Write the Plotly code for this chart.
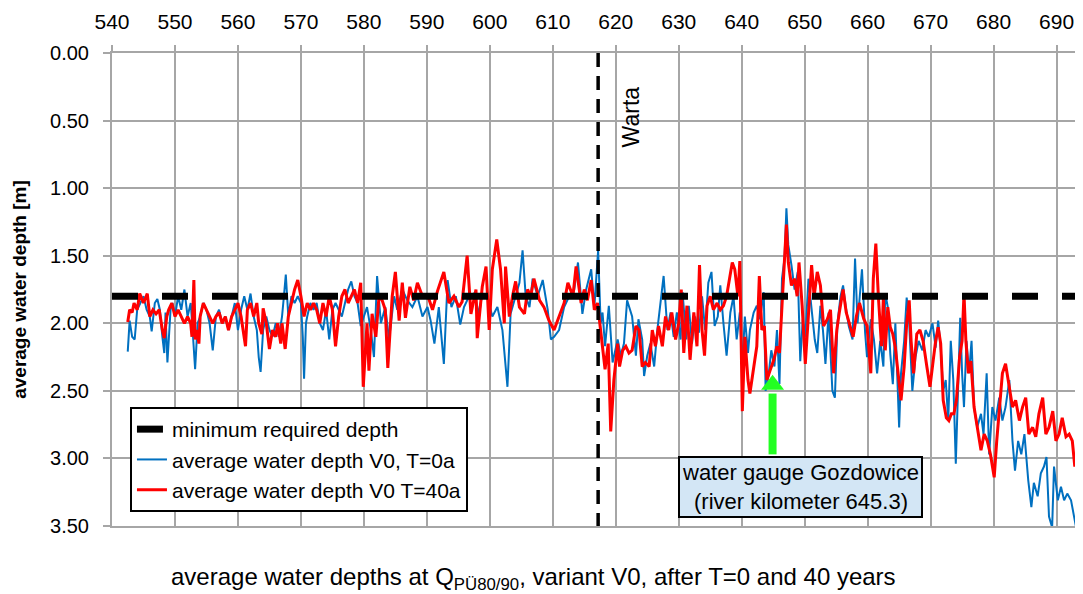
import plotly.graph_objects as go

# ---------------- data ----------------
blue_km = [542.5, 542.8, 543.2, 543.6, 544.0, 544.5, 545.0, 545.5, 546.0, 546.3, 546.8, 547.2, 547.6, 548.0, 548.3, 548.5, 548.8, 549.3, 549.6, 550.0,
           550.5, 551.0, 551.5, 552.0, 552.5, 552.8, 553.0, 553.2, 553.6, 554.0, 554.5, 555.0, 555.5, 556.0, 556.5, 557.0, 557.5, 558.0, 558.5, 559.0,
           559.5, 560.0, 560.5, 561.0, 561.5, 562.0, 562.5, 563.0, 563.3, 563.6, 564.0, 564.5, 565.0, 565.5, 566.0, 566.5, 567.0, 567.3, 567.6, 568.0,
           568.5, 569.0, 569.5, 570.0, 570.3, 570.5, 570.8, 571.0, 571.5, 572.0, 572.5, 573.0, 573.5, 574.0, 574.5, 575.0, 575.5, 576.0, 576.5, 577.0,
           577.5, 578.0, 578.5, 579.0, 579.5, 580.0, 580.5, 581.1, 581.6, 582.1, 582.7, 583.4, 584.0, 584.8, 585.3, 586.1, 586.9, 587.7, 588.5, 589.3,
           590.1, 590.6, 591.2, 591.9, 592.7, 593.3, 593.9, 594.6, 595.3, 595.9, 596.7, 597.5, 598.3, 598.8, 599.6, 600.4, 601.2, 602.0, 602.8, 603.3,
           604.1, 604.7, 605.2, 605.7, 606.3, 606.8, 607.6, 608.4, 609.2, 609.7, 610.2, 611.0, 611.8, 612.6, 613.4, 614.0, 614.7, 615.3, 616.1, 616.6,
           617.2, 617.6, 617.9, 618.3, 618.9, 619.5, 620.3, 620.8, 621.3, 621.8, 622.6, 623.2, 623.6, 624.2, 624.5, 625.0, 625.5, 626.1, 626.6, 627.1,
           627.6, 628.2, 628.7, 629.2, 629.7, 630.3, 630.6, 631.2, 631.6, 632.1, 632.6, 633.2, 633.7, 634.2, 634.7, 635.2, 635.7, 636.2, 636.6, 637.1,
           637.6, 638.2, 638.7, 639.2, 639.7, 640.1, 640.5, 641.0, 641.3, 641.9, 642.4, 642.9, 643.5, 643.8, 644.3, 644.7, 645.2, 645.6, 646.0, 646.4,
           646.8, 647.1, 647.4, 647.9, 648.4, 648.9, 649.3, 649.7, 650.1, 650.6, 651.2, 651.6, 652.0, 652.5, 652.9, 653.3, 653.8, 654.4, 654.8, 655.2,
           655.7, 656.1, 656.5, 657.0, 657.6, 658.0, 658.4, 658.7, 659.1, 659.6, 659.9, 660.5, 661.0, 661.5, 662.0, 662.5, 662.8, 663.2, 663.6, 664.0,
           664.4, 665.0, 665.3, 665.8, 666.2, 666.6, 667.1, 667.6, 668.1, 668.7, 669.2, 669.7, 670.3, 670.8, 671.2, 671.6, 672.0, 672.4, 672.8, 673.2,
           673.6, 674.0, 674.3, 674.7, 675.0, 675.3, 675.7, 676.1, 676.5, 676.9, 677.4, 678.0, 678.4, 678.9, 679.3, 679.8, 680.3, 680.9, 681.4, 681.9,
           682.5, 683.0, 683.4, 683.9, 684.4, 684.9, 685.5, 686.0, 686.4, 687.0, 687.5, 688.0, 688.4, 688.8, 689.3, 689.6, 690.2, 690.7, 691.2, 691.7,
           692.3, 692.8, 693.1]
blue_depth = [2.21, 1.98, 2.10, 2.12, 1.90, 1.85, 1.80, 1.90, 1.95, 2.06, 1.85, 1.82, 1.90, 2.10, 2.22, 1.92, 2.29, 1.90, 1.85, 1.95,
              1.80, 1.90, 1.75, 1.95, 1.85, 2.05, 2.20, 2.34, 2.00, 1.95, 1.85, 1.90, 2.00, 2.20, 1.95, 1.90, 2.00, 1.95, 2.05, 1.95,
              1.85, 2.05, 1.90, 1.80, 1.90, 1.78, 1.95, 2.05, 2.25, 2.36, 2.05, 1.95, 2.05, 2.10, 2.00, 2.10, 1.95, 1.80, 1.64, 1.95,
              1.80, 1.85, 1.80, 1.85, 2.10, 2.41, 2.00, 1.95, 1.85, 1.90, 1.85, 2.00, 2.05, 1.90, 2.12, 1.90, 1.85, 1.90, 1.95, 1.85,
              1.75, 1.69, 1.80, 1.85, 2.02, 1.95, 1.88, 2.05, 2.25, 1.65, 2.00, 1.88, 2.12, 1.80, 1.90, 1.75, 1.83, 1.88, 1.80, 1.95,
              1.88, 1.98, 2.15, 1.88, 2.30, 1.68, 1.88, 1.80, 2.01, 1.88, 1.80, 1.78, 1.93, 1.78, 1.80, 1.95, 1.88, 2.05, 2.47, 1.93,
              1.80, 1.70, 1.46, 1.80, 1.88, 1.67, 1.80, 1.68, 1.90, 2.12, 2.10, 2.05, 1.88, 1.80, 1.75, 1.55, 1.93, 1.75, 1.60, 1.88,
              1.46, 2.00, 1.92, 2.17, 1.87, 2.29, 2.12, 2.24, 2.15, 1.83, 1.95, 2.24, 1.97, 2.12, 2.39, 2.24, 2.15, 2.32, 2.05, 1.87,
              1.65, 2.05, 1.92, 2.10, 1.92, 2.12, 1.77, 2.12, 1.87, 2.15, 1.95, 2.07, 1.80, 2.05, 1.70, 1.62, 2.02, 1.95, 1.72, 2.00,
              2.24, 1.92, 1.80, 2.12, 1.92, 2.32, 1.95, 2.22, 2.05, 1.92, 1.87, 1.97, 1.77, 2.50, 2.37, 2.20, 2.32, 2.05, 2.45, 1.67,
              1.52, 1.15, 1.42, 1.57, 1.75, 1.62, 2.28, 1.97, 2.10, 1.67, 1.92, 2.12, 2.22, 1.87, 2.05, 2.30, 1.92, 2.50, 2.55, 2.00,
              1.80, 1.72, 1.87, 2.02, 2.12, 1.52, 2.00, 1.80, 1.60, 2.07, 2.25, 1.97, 2.12, 2.37, 2.13, 2.32, 1.78, 1.88, 2.23, 2.45,
              2.00, 2.77, 2.37, 2.13, 1.81, 2.00, 2.50, 2.25, 2.13, 2.20, 2.05, 2.10, 2.00, 2.18, 1.98, 2.18, 2.50, 2.42, 2.72, 2.13,
              2.42, 3.04, 2.62, 1.96, 2.37, 2.62, 2.13, 2.37, 2.13, 2.62, 2.77, 2.67, 2.82, 2.37, 2.97, 2.62, 2.72, 2.55, 2.72, 2.62,
              2.42, 2.87, 3.09, 2.87, 2.97, 2.82, 3.16, 3.36, 3.18, 3.28, 3.11, 3.06, 2.99, 3.43, 3.51, 3.06, 3.31, 3.21, 3.31, 3.26,
              3.31, 3.43, 3.51]

red_km = [542.5, 542.8, 543.2, 543.5, 544.0, 544.4, 545.0, 545.6, 546.0, 546.5, 547.0, 547.5, 548.0, 548.3, 548.7, 549.0, 549.5, 550.0, 550.5, 551.0,
          551.5, 552.0, 552.5, 552.7, 553.0, 553.2, 553.5, 553.8, 554.0, 554.5, 555.0, 555.5, 556.0, 556.5, 557.0, 557.5, 558.0, 558.5, 559.0, 559.5,
          560.0, 560.5, 561.2, 561.5, 562.0, 562.5, 563.0, 563.3, 563.8, 564.0, 564.5, 565.0, 565.5, 566.0, 566.3, 566.8, 567.0, 567.5, 568.0, 568.5,
          569.0, 569.5, 570.0, 570.5, 571.0, 571.5, 572.0, 572.5, 573.0, 573.5, 574.0, 574.5, 575.0, 575.5, 576.0, 576.5, 577.0, 577.5, 578.0, 578.5,
          579.0, 579.5, 579.9, 580.5, 580.8, 581.3, 581.9, 582.4, 582.9, 583.4, 583.8, 584.5, 585.0, 585.6, 586.1, 586.6, 587.3, 587.9, 588.5, 589.3,
          590.1, 590.9, 591.7, 592.7, 593.5, 594.3, 595.1, 595.6, 596.4, 597.0, 597.8, 598.0, 598.8, 599.4, 599.9, 600.4, 601.1, 601.7, 602.3, 602.5,
          603.1, 603.6, 604.1, 604.7, 605.5, 606.0, 606.5, 607.0, 607.9, 608.6, 609.4, 610.2, 611.0, 611.8, 612.4, 613.2, 613.7, 614.5, 615.0, 615.5,
          616.1, 616.6, 617.1, 617.6, 617.9, 618.3, 618.8, 619.2, 619.7, 620.3, 620.6, 621.1, 621.6, 622.1, 622.6, 623.2, 623.7, 624.2, 624.7, 625.3,
          625.8, 626.3, 626.8, 627.4, 627.9, 628.4, 628.9, 629.5, 630.0, 630.4, 630.8, 631.3, 631.8, 632.4, 632.9, 633.3, 633.7, 634.1, 634.5, 635.0,
          635.5, 636.1, 636.6, 637.1, 637.6, 638.2, 638.5, 638.9, 639.4, 639.7, 640.1, 640.5, 641.0, 641.3, 641.9, 642.4, 642.8, 643.2, 643.6, 644.0,
          644.5, 645.1, 645.6, 646.0, 646.4, 646.8, 647.1, 647.4, 647.9, 648.4, 648.8, 649.1, 649.6, 650.1, 650.5, 651.1, 651.5, 652.0, 652.5, 653.0,
          653.6, 654.1, 654.6, 655.1, 655.5, 656.1, 656.6, 657.1, 657.7, 658.2, 658.7, 659.4, 659.9, 660.5, 660.9, 661.3, 661.7, 662.2, 662.5, 662.8,
          663.2, 663.6, 664.0, 664.4, 665.0, 665.3, 665.8, 666.2, 666.6, 666.9, 667.3, 667.8, 668.3, 668.8, 669.4, 669.9, 670.4, 670.8, 671.2, 671.6,
          672.0, 672.5, 672.9, 673.3, 673.7, 674.1, 674.6, 675.0, 675.3, 675.6, 676.0, 676.4, 676.9, 677.4, 678.0, 678.5, 679.0, 679.5, 680.1, 680.5,
          680.9, 681.4, 681.9, 682.5, 683.0, 683.5, 684.1, 684.6, 685.1, 685.6, 686.2, 686.7, 687.2, 687.8, 688.3, 688.8, 689.4, 689.9, 690.4, 690.9,
          691.5, 692.0, 692.5, 692.9, 693.3, 693.8]
red_depth = [1.99, 1.90, 1.92, 1.85, 1.90, 1.78, 1.85, 1.78, 1.95, 1.90, 1.93, 1.90, 2.05, 2.11, 1.95, 1.90, 1.85, 1.95, 1.90, 1.95,
             2.00, 1.95, 2.00, 2.10, 1.68, 2.12, 2.05, 2.15, 1.95, 1.85, 1.90, 1.95, 2.00, 1.95, 1.92, 2.00, 1.95, 2.05, 1.95, 1.90,
             1.85, 1.95, 2.17, 1.90, 1.85, 1.95, 1.85, 2.00, 2.08, 1.89, 2.00, 2.19, 2.05, 2.10, 2.00, 2.15, 2.00, 2.19, 1.95, 1.85,
             1.75, 1.68, 1.80, 1.95, 1.85, 1.90, 1.85, 1.90, 2.00, 1.85, 1.95, 1.80, 1.90, 2.17, 1.95, 1.80, 1.75, 1.85, 1.80, 1.75,
             1.85, 1.70, 2.47, 2.00, 2.35, 1.93, 2.10, 1.80, 1.83, 1.90, 2.33, 1.80, 1.62, 1.98, 1.70, 1.96, 1.73, 1.83, 1.70, 1.80,
             1.79, 1.90, 1.76, 1.62, 1.85, 1.80, 1.88, 1.84, 1.50, 1.93, 1.75, 2.11, 1.73, 1.58, 2.05, 1.60, 1.38, 1.60, 2.00, 1.58,
             1.95, 1.80, 1.69, 1.88, 1.93, 1.75, 1.80, 1.67, 1.83, 1.88, 1.98, 2.05, 1.95, 1.85, 1.70, 1.80, 1.58, 1.85, 1.75, 1.83,
             1.68, 1.90, 1.85, 2.05, 2.15, 2.34, 2.15, 2.80, 2.42, 2.15, 2.32, 2.20, 2.17, 2.22, 2.20, 2.02, 2.05, 2.32, 2.29, 2.32,
             2.05, 2.17, 2.02, 2.17, 1.95, 2.05, 1.92, 2.12, 2.00, 1.75, 2.22, 1.87, 2.27, 1.92, 2.17, 1.57, 2.05, 2.24, 1.87, 1.80,
             1.90, 1.85, 1.90, 1.87, 1.80, 1.65, 1.55, 1.60, 1.80, 1.54, 2.65, 2.10, 2.42, 2.52, 2.32, 2.17, 1.65, 2.05, 2.02, 2.42,
             2.35, 2.27, 2.17, 2.22, 1.87, 1.55, 1.27, 1.55, 1.72, 1.67, 1.80, 1.55, 1.87, 2.30, 1.97, 1.57, 1.80, 1.62, 1.72, 2.02,
             1.97, 1.90, 2.37, 2.05, 1.92, 1.75, 1.92, 2.00, 2.10, 1.95, 1.85, 1.97, 2.02, 2.37, 1.67, 1.41, 1.80, 2.17, 1.81, 2.20,
             1.88, 2.03, 2.08, 2.18, 2.42, 2.57, 2.32, 2.00, 1.83, 2.13, 2.37, 2.08, 2.05, 2.13, 2.32, 2.47, 2.28, 2.13, 2.03, 2.15,
             2.57, 2.70, 2.72, 2.67, 2.67, 2.57, 2.25, 2.13, 1.78, 2.13, 2.37, 2.28, 2.62, 2.77, 2.94, 2.82, 2.87, 2.97, 3.14, 2.87,
             2.62, 2.37, 2.30, 2.47, 2.62, 2.57, 2.72, 2.62, 2.55, 2.82, 2.77, 2.84, 2.67, 2.55, 2.82, 2.77, 2.65, 2.87, 2.82, 2.70,
             2.84, 2.82, 2.87, 3.06, 2.99, 3.04]

min_depth_km = [540.0, 694.2]
min_depth_value = [1.80, 1.80]
warta_km = [617.2, 617.2]
warta_depth = [0.0, 3.5]
gauge_km = [644.9, 644.9]
gauge_shaft_depth = [2.97, 2.52]
gauge_head_depth = [2.455]
x_ticks = [540, 550, 560, 570, 580, 590, 600, 610, 620, 630, 640, 650, 660, 670, 680, 690]
y_ticks = [0.0, 0.5, 1.0, 1.5, 2.0, 2.5, 3.0, 3.5]

FONT = "Liberation Sans, Arial, sans-serif"
GRID = "#a6a6a6"
GREEN = "#22ff22"

fig = go.Figure()

fig.add_trace(go.Scatter(x=blue_km, y=blue_depth, mode="lines",
                         line=dict(color="#0070c0", width=2),
                         name="average water depth V0, T=0a",
                         legendgroup="b", legendrank=2))
fig.add_trace(go.Scatter(x=red_km, y=red_depth, mode="lines",
                         line=dict(color="#ff0000", width=3),
                         name="average water depth V0 T=40a",
                         legendgroup="r", legendrank=3))
fig.add_trace(go.Scatter(x=min_depth_km, y=min_depth_value, mode="lines",
                         line=dict(color="black", width=7, dash="26px,24px"),
                         name="minimum required depth",
                         legendgroup="m", legendrank=1))
fig.add_trace(go.Scatter(x=warta_km, y=warta_depth, mode="lines",
                         line=dict(color="black", width=3.5, dash="14px,9px"),
                         showlegend=False, hoverinfo="skip"))
# green arrow pointing at the gauge
fig.add_trace(go.Scatter(x=gauge_km, y=gauge_shaft_depth, mode="lines",
                         line=dict(color=GREEN, width=8),
                         showlegend=False, hoverinfo="skip"))
fig.add_trace(go.Scatter(x=gauge_km[:1], y=gauge_head_depth, mode="markers",
                         marker=dict(symbol="triangle-up", size=20, color=GREEN,
                                     line=dict(width=0)),
                         showlegend=False, hoverinfo="skip"))

fig.add_annotation(x=622.4, y=0.47, xref="x", yref="y", text="Warta",
                   textangle=-90, showarrow=False,
                   font=dict(family=FONT, size=23, color="black"))

fig.add_annotation(x=649.4, y=3.215, xref="x", yref="y",
                   text="water gauge Gozdowice<br>(river kilometer 645.3)",
                   showarrow=False, bgcolor="#d3e6f5", bordercolor="black",
                   borderwidth=2, borderpad=2,
                   font=dict(family=FONT, size=22, color="black"))

fig.add_annotation(x=0.4346, y=-0.11, xref="paper", yref="paper",
                   text="average water depths at Q<sub>PÜ80/90</sub>, variant V0, after T=0 and 40 years",
                   showarrow=False, yanchor="middle",
                   font=dict(family=FONT, size=24, color="black"))

# the page body adds an 8 px offset, so the figure is laid out 8 px smaller
fig.update_layout(
    width=1075, height=586,
    margin=dict(l=104, r=0, t=45, b=68),
    paper_bgcolor="white", plot_bgcolor="white",
    showlegend=True,
    legend=dict(x=0.0185, y=0.2516, xanchor="left", yanchor="top",
                bgcolor="white", bordercolor="black", borderwidth=2,
                tracegroupgap=0,
                font=dict(family=FONT, size=21, color="black")),
    xaxis=dict(side="top", range=[540, 694.2], tickmode="array", tickvals=x_ticks,
               ticktext=[str(v) for v in x_ticks], automargin=False,
               showgrid=True, gridcolor=GRID, gridwidth=2,
               showline=True, linecolor=GRID, linewidth=2, mirror=True,
               ticks="outside", ticklen=6, tickcolor=GRID, tickwidth=2,
               ticklabelstandoff=8,
               zeroline=False,
               tickfont=dict(family=FONT, size=21, color="black")),
    yaxis=dict(range=[3.5, 0], tickmode="array", tickvals=y_ticks,
               ticktext=[f"{v:.2f}" for v in y_ticks], automargin=False,
               showgrid=True, gridcolor=GRID, gridwidth=2,
               showline=True, linecolor=GRID, linewidth=2, mirror=False,
               ticks="outside", ticklen=7, tickcolor=GRID, tickwidth=2,
               ticklabelstandoff=10,
               zeroline=False,
               title=dict(text="<b>average water depth [m]</b>", standoff=18,
                          font=dict(family=FONT, size=19, color="black")),
               tickfont=dict(family=FONT, size=20, color="black")),
)

fig.write_html("out.html")
